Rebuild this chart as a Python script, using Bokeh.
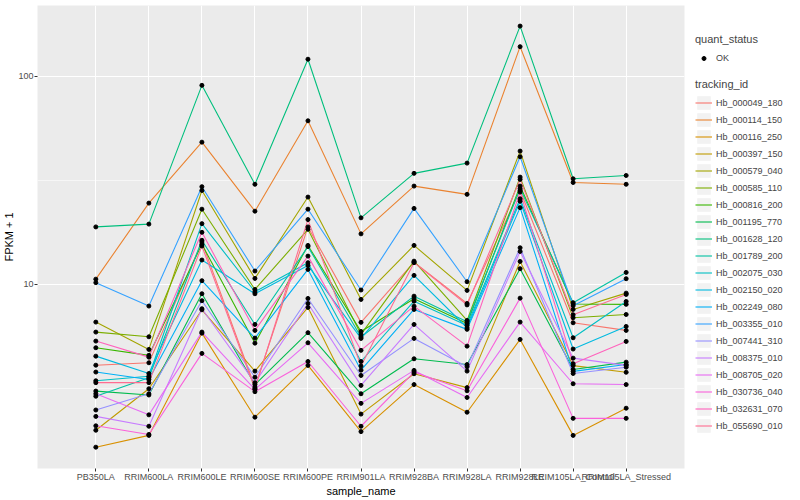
from bokeh.plotting import figure
from bokeh.models import FactorRange, Range1d, FixedTicker, Legend, LegendItem
from bokeh.layouts import row
from bokeh.embed import file_html
from bokeh.resources import INLINE

sample_names = ["PB350LA", "RRIM600LA", "RRIM600LE", "RRIM600SE", "RRIM600PE",
                "RRIM901LA", "RRIM928BA", "RRIM928LA", "RRIM928LE",
                "RRIM105LA_Control", "RRIM105LA_Stressed"]

hb_000049_180 = [4.09, 4.20, 16.0, 3.21, 18.9, 6.57, 12.8, 8.10, 28.3, 6.54, 6.01]
hb_000114_150 = [10.6, 24.6, 48.3, 22.5, 61.2, 17.5, 29.7, 27.1, 139.0, 30.9, 30.3]
hb_000116_250 = [1.65, 1.88, 5.83, 2.30, 4.08, 1.96, 3.30, 2.43, 5.44, 1.88, 2.54]
hb_000397_150 = [1.99, 3.15, 7.55, 3.83, 7.75, 2.38, 3.72, 3.19, 12.9, 4.07, 3.78]
hb_000579_040 = [6.59, 4.87, 28.3, 10.69, 26.3, 8.47, 15.4, 9.36, 43.75, 7.58, 9.08]
hb_000585_110 = [5.90, 5.60, 23.0, 9.46, 18.4, 5.75, 12.94, 6.71, 32.8, 6.92, 7.17]
hb_000816_200 = [4.96, 4.56, 15.6, 5.22, 15.4, 5.94, 8.54, 6.49, 29.7, 8.05, 8.02]
hb_001195_770 = [3.07, 2.94, 9.02, 3.30, 5.86, 2.98, 4.39, 4.12, 11.9, 3.90, 4.23]
hb_001628_120 = [18.9, 19.5, 90.6, 30.3, 121.0, 20.9, 34.2, 38.3, 174.6, 32.2, 33.4]
hb_001789_200 = [2.90, 3.56, 16.3, 6.42, 15.2, 5.59, 8.78, 6.62, 28.9, 8.17, 11.42]
hb_002075_030 = [3.44, 3.62, 19.6, 9.22, 12.72, 4.26, 8.31, 6.35, 25.8, 5.54, 8.28]
hb_002150_020 = [4.52, 3.73, 13.1, 9.02, 12.34, 5.50, 11.05, 6.19, 25.1, 4.89, 6.28]
hb_002249_080 = [3.79, 3.49, 10.42, 5.52, 11.81, 3.87, 7.58, 6.08, 23.4, 3.82, 4.12]
hb_003355_010 = [10.2, 7.87, 29.5, 11.6, 23.0, 9.4, 23.2, 10.3, 41.1, 7.9, 10.65]
hb_007441_310 = [2.49, 2.98, 8.35, 3.58, 8.56, 3.65, 5.50, 4.02, 15.0, 3.73, 4.0]
hb_008375_010 = [2.32, 2.08, 7.64, 3.37, 8.10, 3.27, 6.42, 3.83, 14.4, 4.42, 4.08]
hb_008705_020 = [2.98, 2.36, 5.9, 3.13, 5.24, 2.68, 3.86, 2.86, 6.59, 3.33, 3.30]
hb_030736_040 = [2.09, 1.90, 4.66, 3.05, 4.26, 2.08, 3.79, 3.08, 8.59, 2.27, 2.27]
hb_032631_070 = [5.34, 4.47, 17.8, 6.01, 13.68, 4.82, 7.86, 5.05, 27.8, 4.16, 5.32]
hb_055690_010 = [3.37, 3.37, 15.3, 3.15, 20.5, 4.05, 12.72, 7.97, 31.98, 7.15, 8.95]

tracking_ids = ["Hb_000049_180", "Hb_000114_150", "Hb_000116_250", "Hb_000397_150",
                "Hb_000579_040", "Hb_000585_110", "Hb_000816_200", "Hb_001195_770",
                "Hb_001628_120", "Hb_001789_200", "Hb_002075_030", "Hb_002150_020",
                "Hb_002249_080", "Hb_003355_010", "Hb_007441_310", "Hb_008375_010",
                "Hb_008705_020", "Hb_030736_040", "Hb_032631_070", "Hb_055690_010"]
series_values = [hb_000049_180, hb_000114_150, hb_000116_250, hb_000397_150,
                 hb_000579_040, hb_000585_110, hb_000816_200, hb_001195_770,
                 hb_001628_120, hb_001789_200, hb_002075_030, hb_002150_020,
                 hb_002249_080, hb_003355_010, hb_007441_310, hb_008375_010,
                 hb_008705_020, hb_030736_040, hb_032631_070, hb_055690_010]
quant_status = ["OK"]

palette = ["#F8766D", "#EA8331", "#D89000", "#C09B00", "#A3A500", "#7CAE00",
           "#39B600", "#00BB4E", "#00BF7D", "#00C1A3", "#00BFC4", "#00BAE0",
           "#00B0F6", "#35A2FF", "#9590FF", "#C77CFF", "#E76BF3", "#FA62DB",
           "#FF62BC", "#FF6C91"]

FONT = "Liberation Sans"

p = figure(width=688, height=499,
           x_range=FactorRange(factors=sample_names, range_padding=0.6,
                               range_padding_units="absolute"),
           y_axis_type="log", y_range=Range1d(1.303, 219.3),
           output_backend="svg", toolbar_location=None,
           min_border_top=5, min_border_right=4, min_border_left=6, min_border_bottom=2)
p.background_fill_color = "#EBEBEB"
p.border_fill_color = "white"
p.outline_line_color = None

ticker = FixedTicker(ticks=[10, 100], minor_ticks=[3.1623, 31.623])
p.yaxis.ticker = ticker
p.ygrid.ticker = ticker
p.yaxis.major_label_overrides = {10: "10", 100: "100"}

for g in (p.xgrid, p.ygrid):
    g.grid_line_color = "white"
    g.grid_line_width = 1.1
p.ygrid.minor_grid_line_color = "white"
p.ygrid.minor_grid_line_width = 0.55

for ax in (p.xaxis, p.yaxis):
    ax.axis_line_color = None
    ax.major_tick_line_color = "#333333"
    ax.major_tick_in = 0
    ax.major_tick_out = 3
    ax.minor_tick_line_color = None
    ax.major_label_text_font = FONT
    ax.major_label_text_font_size = "9px"
    ax.major_label_text_color = "#4D4D4D"
    ax.axis_label_text_font = FONT
    ax.axis_label_text_font_size = "11px"
    ax.axis_label_text_font_style = "normal"
    ax.axis_label_text_color = "black"
    ax.major_label_standoff = 0
    ax.axis_label_standoff = 0
p.xaxis.axis_label = "sample_name"
p.yaxis.axis_label = "FPKM + 1"

for vals, col in zip(series_values, palette):
    p.line(sample_names, vals, line_color=col, line_width=1.1)
for vals in series_values:
    p.scatter(sample_names, vals, size=4, color="black")

# legend panel (dummy glyphs kept outside its visible range)
lg = figure(width=112, height=484, x_axis_location=None, y_axis_location=None,
            toolbar_location=None, output_backend="svg", min_border=0,
            x_range=(0, 1), y_range=(0, 1))
lg.outline_line_color = None
lg.grid.visible = False
lg.background_fill_color = "white"

def key_bg():
    return lg.quad(left=[5], right=[6], top=[6], bottom=[5], fill_color="#F2F2F2", line_color=None)

dot = lg.scatter(x=[5], y=[5], size=4, color="black")
items1 = [LegendItem(label=quant_status[0], renderers=[dot])]
items2 = []
for name, col in zip(tracking_ids, palette):
    r = lg.line(x=[5, 6], y=[5, 6], line_color=col, line_width=1.1)
    items2.append(LegendItem(label=name, renderers=[key_bg(), r]))

def style(leg):
    leg.border_line_color = None
    leg.background_fill_alpha = 0
    leg.item_background_policy = "none"
    leg.title_text_font = FONT
    leg.title_text_font_size = "11px"
    leg.title_text_font_style = "normal"
    leg.label_text_font = FONT
    leg.label_text_font_size = "9px"
    leg.glyph_width = 17
    leg.glyph_height = 17
    leg.label_height = 17
    leg.spacing = 0
    leg.padding = 2
    leg.margin = 0
    leg.label_standoff = 4
    leg.title_standoff = 4

leg1 = Legend(items=items1, title="quant_status", location=(7, 387))
leg2 = Legend(items=items2, title="tracking_id", location=(7, 19))
style(leg1)
style(leg2)
leg1.glyph_height = 10
lg.add_layout(leg1)
lg.add_layout(leg2)

layout = row(p, lg)
open("out.html", "w").write(file_html(layout, INLINE))
